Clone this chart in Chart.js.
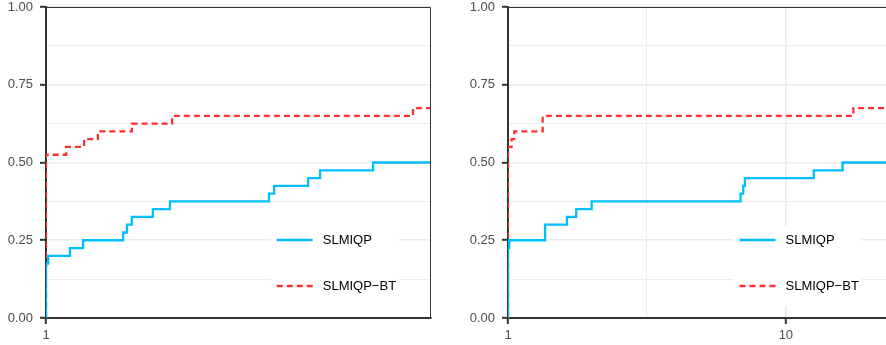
<!DOCTYPE html>
<html>
<head>
<meta charset="utf-8">
<script src="https://cdn.jsdelivr.net/npm/chart.js@4"></script>
<style>
  html, body { margin: 0; padding: 0; background: #fff; overflow: hidden; width: 886px; height: 345px; }
  canvas { position: absolute; top: 0; }
  #left { left: 0; }
  #right { left: 446px; }
</style>
</head>
<body>
<canvas id="left" width="446" height="345"></canvas>
<canvas id="right" width="460" height="345"></canvas>
<script>
// series names and tick labels
const seriesNames = ['SLMIQP', 'SLMIQP\u2212BT'];
const yGrid = [0, 0.125, 0.25, 0.375, 0.5, 0.625, 0.75, 0.875, 1];
const yLabelled = [0, 0.25, 0.5, 0.75, 1];

// left panel (tau, fraction of problems)
const leftBlueX = [1, 1, 1.004, 1.044, 1.069, 1.149, 1.157, 1.167, 1.212, 1.25, 1.494, 1.508, 1.603, 1.638, 1.802, 2];
const leftBlueY = [0, 0.175, 0.2, 0.225, 0.25, 0.275, 0.3, 0.325, 0.35, 0.375, 0.4, 0.425, 0.45, 0.475, 0.5, 0.5];
const leftRedX = [1, 1, 1.037, 1.071, 1.098, 1.167, 1.255, 1.936, 2];
const leftRedY = [0, 0.525, 0.55, 0.575, 0.6, 0.625, 0.65, 0.675, 0.675];
const leftXTicks = [1];
const leftXLabels = [1];

// right panel
const rightBlueX = [1, 1, 1.01, 1.36, 1.63, 1.76, 2.0, 6.87, 7.02, 7.12, 12.6, 16.0, 24.5];
const rightBlueY = [0, 0.225, 0.25, 0.3, 0.325, 0.35, 0.375, 0.4, 0.425, 0.45, 0.475, 0.5, 0.5];
const rightRedX = [1, 1, 1.03, 1.054, 1.333, 17.5, 24.5];
const rightRedY = [0, 0.55, 0.575, 0.6, 0.65, 0.675, 0.675];
const rightXTicks = [1, 3.1623, 10];
const rightXLabels = [1, 10];

const FONT = { family: 'Liberation Sans, Arial, sans-serif', size: 13, lineHeight: 1 };
const AXIS_TEXT = '#4D4D4D';
const GRID = '#EBEBEB';
const BLUE = '#00BFFF';
const RED = '#FF3030';

function toPoints(xs, ys) {
  return xs.map((x, i) => ({ x: x, y: ys[i] }));
}

// panel border + legend inside the plot
const panelPlugin = {
  id: 'panelExtras',
  afterDatasetsDraw(chart) {
    const a = chart.chartArea;
    const ctx = chart.ctx;
    ctx.save();
    ctx.strokeStyle = '#333';
    ctx.lineWidth = 1;
    ctx.beginPath();
    ctx.moveTo(a.left, a.top + 0.5);
    ctx.lineTo(a.right - 0.5, a.top + 0.5);
    ctx.lineTo(a.right - 0.5, a.bottom);
    ctx.stroke();

    // legend box, centred at 75% of the panel width
    const boxW = 128;
    const bx = a.left + 0.75 * (a.right - a.left) - boxW / 2;
    ctx.fillStyle = '#fff';
    ctx.fillRect(bx, a.bottom - 92, boxW, 80);
    const rows = [a.bottom - 78, a.bottom - 32];
    const ds = chart.data.datasets;
    rows.forEach((ry, i) => {
      ctx.strokeStyle = ds[i].borderColor;
      ctx.lineWidth = 2.3;
      ctx.setLineDash(ds[i].borderDash || []);
      ctx.beginPath();
      ctx.moveTo(bx + 6, ry);
      ctx.lineTo(bx + 42, ry);
      ctx.stroke();
      ctx.setLineDash([]);
      ctx.fillStyle = '#000';
      ctx.font = '13px "Liberation Sans", Arial, sans-serif';
      ctx.textBaseline = 'middle';
      ctx.textAlign = 'left';
      ctx.fillText(ds[i].label, bx + 52, ry + 0.5);
    });
    ctx.restore();
  }
};

function makeChart(id, blue, red, xMax, xTicks, xLabels, yWidth, padRight) {
  return new Chart(document.getElementById(id), {
    type: 'line',
    data: {
      datasets: [
        { label: seriesNames[0], data: toPoints(blue[0], blue[1]), borderColor: BLUE, borderWidth: 2.3,
          stepped: 'before', pointRadius: 0, fill: false, clip: 0 },
        { label: seriesNames[1], data: toPoints(red[0], red[1]), borderColor: RED, borderWidth: 2.3,
          borderDash: [6, 4], stepped: 'before', pointRadius: 0, fill: false, clip: 0 }
      ]
    },
    options: {
      responsive: false,
      animation: false,
      devicePixelRatio: 1,
      layout: { padding: { top: 7, right: padRight, left: 0, bottom: 0 } },
      plugins: { legend: { display: false }, tooltip: { enabled: false } },
      scales: {
        x: {
          type: 'logarithmic',
          min: 1,
          max: xMax,
          afterBuildTicks: s => { s.ticks = xTicks.map(v => ({ value: v })); },
          afterFit: s => { s.height = 27; s.paddingLeft = 0; s.paddingRight = 0; },
          ticks: {
            autoSkip: false, maxRotation: 0, padding: 5, font: FONT, color: AXIS_TEXT,
            callback: v => xLabels.includes(v) ? String(v) : ''
          },
          grid: {
            color: GRID,
            lineWidth: c => (c.tick && xLabels.includes(c.tick.value)) ? 1.6 : 0.9,
            tickLength: 6,
            tickWidth: 2,
            tickColor: c => (c.tick && xLabels.includes(c.tick.value)) ? '#333' : 'rgba(0,0,0,0)'
          },
          border: { color: '#333', width: 2 }
        },
        y: {
          min: 0,
          max: 1,
          afterBuildTicks: s => { s.ticks = yGrid.map(v => ({ value: v })); },
          afterFit: s => { s.width = yWidth; s.paddingTop = 0; s.paddingBottom = 0; },
          ticks: {
            autoSkip: false, padding: 7, font: FONT, color: AXIS_TEXT,
            callback: v => yLabelled.includes(v) ? v.toFixed(2) : ''
          },
          grid: {
            color: GRID,
            lineWidth: c => (c.tick && yLabelled.includes(c.tick.value)) ? 1.6 : 0.9,
            tickLength: 6,
            tickWidth: 2,
            tickColor: c => (c.tick && yLabelled.includes(c.tick.value)) ? '#333' : 'rgba(0,0,0,0)'
          },
          border: { color: '#333', width: 2 }
        }
      }
    },
    plugins: [panelPlugin]
  });
}

makeChart('left', [leftBlueX, leftBlueY], [leftRedX, leftRedY], 2, leftXTicks, leftXLabels, 46, 15);
makeChart('right', [rightBlueX, rightBlueY], [rightRedX, rightRedY], 24.5, rightXTicks, rightXLabels, 62, 12);
</script>
</body>
</html>
